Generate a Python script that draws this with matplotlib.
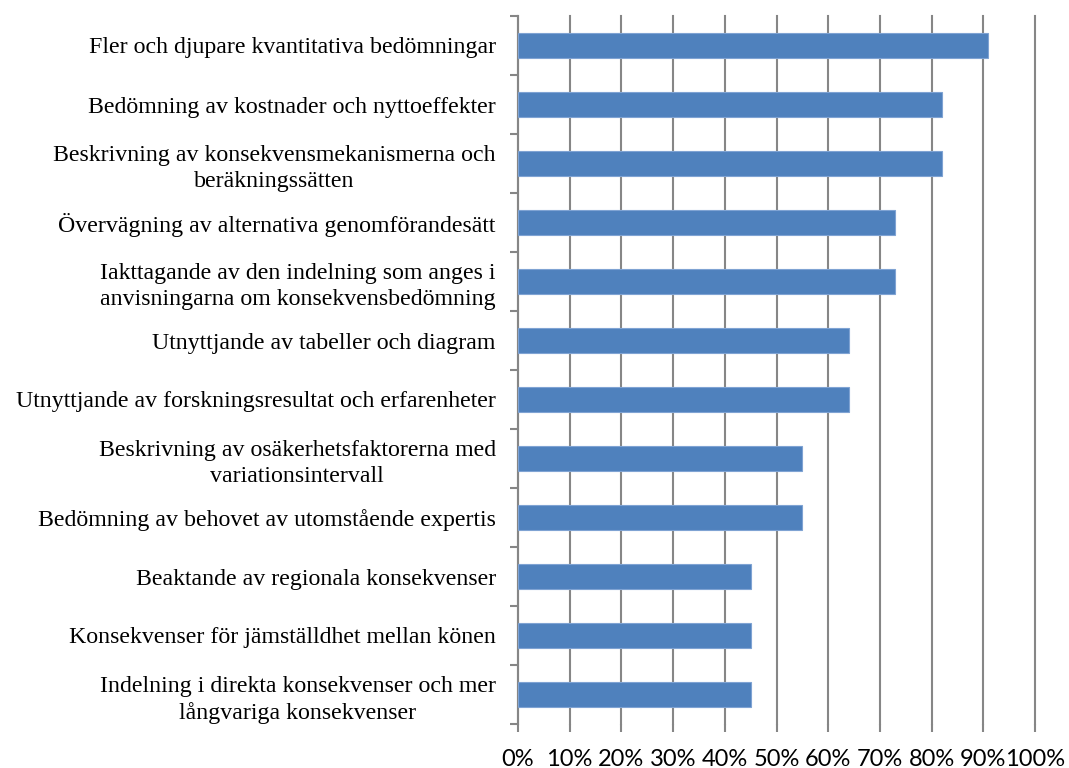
import matplotlib.pyplot as plt
import numpy as np

categories = [
    "Fler och djupare kvantitativa bedömningar",
    "Bedömning av kostnader och nyttoeffekter",
    "Beskrivning av konsekvensmekanismerna och\nberäkningssätten",
    "Övervägning av alternativa genomförandesätt",
    "Iakttagande av den indelning som anges i\nanvisningarna om konsekvensbedömning",
    "Utnyttjande av tabeller och diagram",
    "Utnyttjande av forskningsresultat och erfarenheter",
    "Beskrivning av osäkerhetsfaktorerna med\nvariationsintervall",
    "Bedömning av behovet av utomstående expertis",
    "Beaktande av regionala konsekvenser",
    "Konsekvenser för jämställdhet mellan könen",
    "Indelning i direkta konsekvenser och mer\nlångvariga konsekvenser",
]
values = [91, 82, 82, 73, 73, 64, 64, 55, 55, 45, 45, 45]
xticks = [0, 10, 20, 30, 40, 50, 60, 70, 80, 90, 100]
xticklabels = [f"{t}%" for t in xticks]

fig = plt.figure(figsize=(10.69, 7.68), dpi=100)
ax = fig.add_axes([518 / 1069, 44 / 768, 517 / 1069, 708 / 768])

y = np.arange(len(categories))
ax.barh(y, values, height=0.43, color="#4F81BD", edgecolor="#7FA3D3",
        linewidth=0.8, zorder=3)

ax.set_xlim(0, 100)
ax.set_ylim(len(categories) - 0.5, -0.5)

ax.set_xticks(xticks)
ax.set_xticklabels(xticklabels, fontsize=17, family="Lato")
ax.tick_params(axis="x", length=6, width=1.5, color="#868686", pad=12)
ax.grid(axis="x", color="#868686", linewidth=1.5, zorder=0)
for g in ax.get_xgridlines():
    g.set_clip_on(False)

ax.set_yticks(y)
ax.set_yticklabels(categories, fontsize=17.2, family="Liberation Serif",
                   multialignment="center", linespacing=1.3)
ax.set_yticks(np.arange(-0.5, len(categories)), minor=True)
ax.tick_params(axis="y", which="major", length=0, pad=16)
ax.tick_params(axis="y", which="minor", length=6, width=1.5, color="#868686")

for s in ["top", "right", "bottom"]:
    ax.spines[s].set_visible(False)
ax.spines["left"].set_color("#868686")
ax.spines["left"].set_linewidth(1.5)

fig.savefig("out.png", dpi=100)
